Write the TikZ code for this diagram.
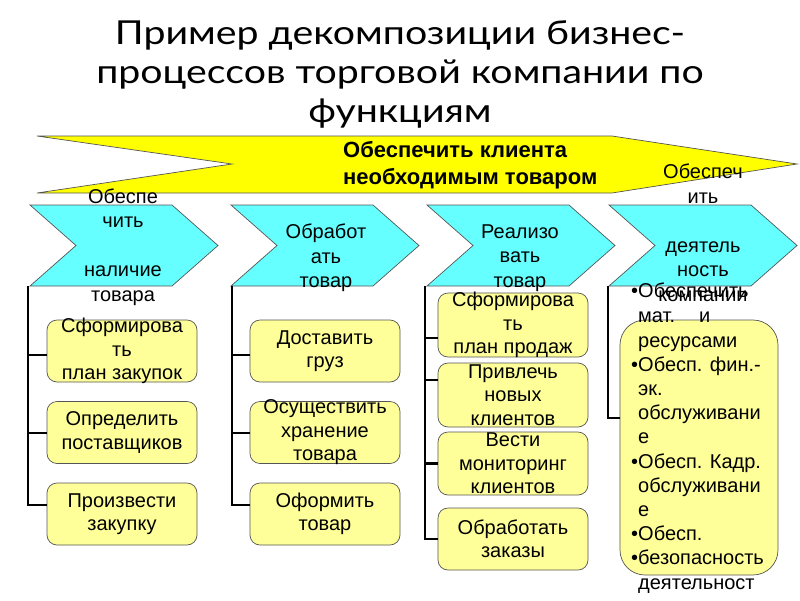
\documentclass[tikz,border=0pt]{standalone}
\usepackage{graphicx}
\usepackage{fontspec}
\setmainfont{Liberation Sans}
\newfontfamily\titlefont{Lato}
\definecolor{arrowyellow}{HTML}{FFFF00}
\definecolor{chevcyan}{HTML}{66FFFF}
\definecolor{boxyellow}{HTML}{FFFF99}
\definecolor{edgegray}{HTML}{555555}
\begin{document}
\begin{tikzpicture}[x=1pt,y=-1pt,
  chev/.style={fill=chevcyan,draw=edgegray,line width=0.7pt},
  bigarrow/.style={fill=arrowyellow,draw=edgegray,line width=0.7pt},
  taskbox/.style={draw=edgegray,fill=boxyellow,line width=0.7pt,rounded corners=10pt,minimum width=150pt,minimum height=62pt,inner sep=0pt},
  bigbox/.style={draw=edgegray,fill=boxyellow,line width=0.7pt,rounded corners=25pt,minimum width=158pt,minimum height=255pt,inner sep=0pt},
  boxtext/.style={align=center,inner sep=0pt,font=\fontsize{20}{23.5}\selectfont},
  chevtext/.style={align=center,inner sep=0pt,font=\fontsize{20}{24.5}\selectfont},
  listline/.style={anchor=mid west,inner sep=0pt,font=\fontsize{20}{24}\selectfont},
  titleline/.style={anchor=base,inner sep=0pt,font=\titlefont\fontsize{33}{40}\selectfont},
  conn/.style={draw=black,line width=2.5pt},
]
\useasboundingbox (0,0) rectangle (800,600);
\fill[white] (0,0) rectangle (800,600);

% title
\node[titleline] (ttl1) at (400,44) {\scalebox{1.19}[1]{Пример декомпозиции бизнес-}};
\node[titleline] (ttl2) at (400,83) {\scalebox{1.19}[1]{процессов торговой компании по}};
\node[titleline] (ttl3) at (400,122) {\scalebox{1.19}[1]{функциям}};

% big yellow arrow
\draw[bigarrow] (37,136) -- (612,136) -- (797,164) -- (612,193) -- (37,193) -- (232,164) -- cycle;
\node[anchor=west,align=left,inner sep=0pt,font=\bfseries\fontsize{22}{27}\selectfont] (goal) at (343,165) {Обеспечить клиента\\необходимым товаром};

% chevrons
\draw[chev] (30,205) -- (172,205) -- (218,245.5) -- (172,286) -- (30,286) -- (76,245.5) -- cycle;
\draw[chev] (231,205) -- (373,205) -- (419,245.5) -- (373,286) -- (231,286) -- (277,245.5) -- cycle;
\draw[chev] (427,205) -- (569,205) -- (615,245.5) -- (569,286) -- (427,286) -- (473,245.5) -- cycle;
\draw[chev] (609,205) -- (751,205) -- (797,245.5) -- (751,286) -- (609,286) -- (655,245.5) -- cycle;
\coordinate (ch1b) at (28,286);
\coordinate (ch2b) at (232,286);
\coordinate (ch3b) at (425,286);
\coordinate (ch4b) at (608,286);

% boxes
\node[taskbox] (b11) at (122,351) {};
\node[taskbox] (b12) at (122,432.5) {};
\node[taskbox] (b13) at (122,514) {};
\node[taskbox] (b21) at (325,351) {};
\node[taskbox] (b22) at (325,432.5) {};
\node[taskbox] (b23) at (325,514) {};
\node[taskbox,minimum height=64pt] (b31) at (513,325) {};
\node[taskbox,minimum height=64pt] (b32) at (513,395) {};
\node[taskbox,minimum height=63pt] (b33) at (513,463.5) {};
\node[taskbox] (b34) at (513,539) {};
\node[bigbox] (b41) at (699,447.5) {};

% connectors
\draw[conn] ([yshift=-4pt]b11.west) -| (ch1b);
\draw[conn] ([yshift=-0.5pt]b12.west) -| (ch1b);
\draw[conn] ([yshift=9pt]b13.west) -| (ch1b);
\draw[conn] ([yshift=-4pt]b21.west) -| (ch2b);
\draw[conn] ([yshift=-0.5pt]b22.west) -| (ch2b);
\draw[conn] ([yshift=9pt]b23.west) -| (ch2b);
\draw[conn] ([yshift=-13pt]b31.west) -| (ch3b);
\draw[conn] ([yshift=15pt]b32.west) -| (ch3b);
\draw[conn] (b33.west) -| (ch3b);
\draw[conn] (b34.west) -| (ch3b);
\draw[conn] ([yshift=29.5pt]b41.west) -| (ch4b);

% chevron texts
\node[chevtext] (t1) at (123,247) {Обеспе\\чить\\\mbox{}\\наличие\\товара};
\node[chevtext] (t2) at (326,258) {Обработ\\ать\\товар};
\node[chevtext] (t3) at (520,258) {Реализо\\вать\\товар};
\node[chevtext] (t4) at (703,233) {Обеспеч\\ить\\\mbox{}\\деятель\\ность\\компании};

% box texts
\node[boxtext] (x11) at (b11.center) {Сформирова\\ть\\план закупок};
\node[boxtext] (x12) at (b12.center) {Определить\\поставщиков};
\node[boxtext] (x13) at (b13.center) {Произвести\\закупку};
\node[boxtext] (x21) at (b21.center) {Доставить\\груз};
\node[boxtext] (x22) at (b22.center) {Осуществить\\хранение\\товара};
\node[boxtext] (x23) at (b23.center) {Оформить\\товар};
\node[boxtext] (x31) at (b31.center) {Сформирова\\ть\\план продаж};
\node[boxtext] (x32) at (b32.center) {Привлечь\\новых\\клиентов};
\node[boxtext] (x33) at (b33.center) {Вести\\мониторинг\\клиентов};
\node[boxtext] (x34) at (b34.center) {Обработать\\заказы};

% list in the big box
\foreach \px/\py/\txt [count=\i] in {
  631/295/•Обеспечить,
  638/320/{мат.\hspace{24pt}и},
  638/345/ресурсами,
  631/369/•Обесп. фин.-,
  638/393/эк.,
  638/417/обслуживани,
  638/441/е,
  631/466/•Обесп. Кадр.,
  638/490/обслуживани,
  638/514/е,
  631/538/•Обесп.,
  631/562/•безопасность,
  638/587/деятельност}
  \node[listline] (l\i) at (\px,\py) {\txt};
\end{tikzpicture}
\end{document}
